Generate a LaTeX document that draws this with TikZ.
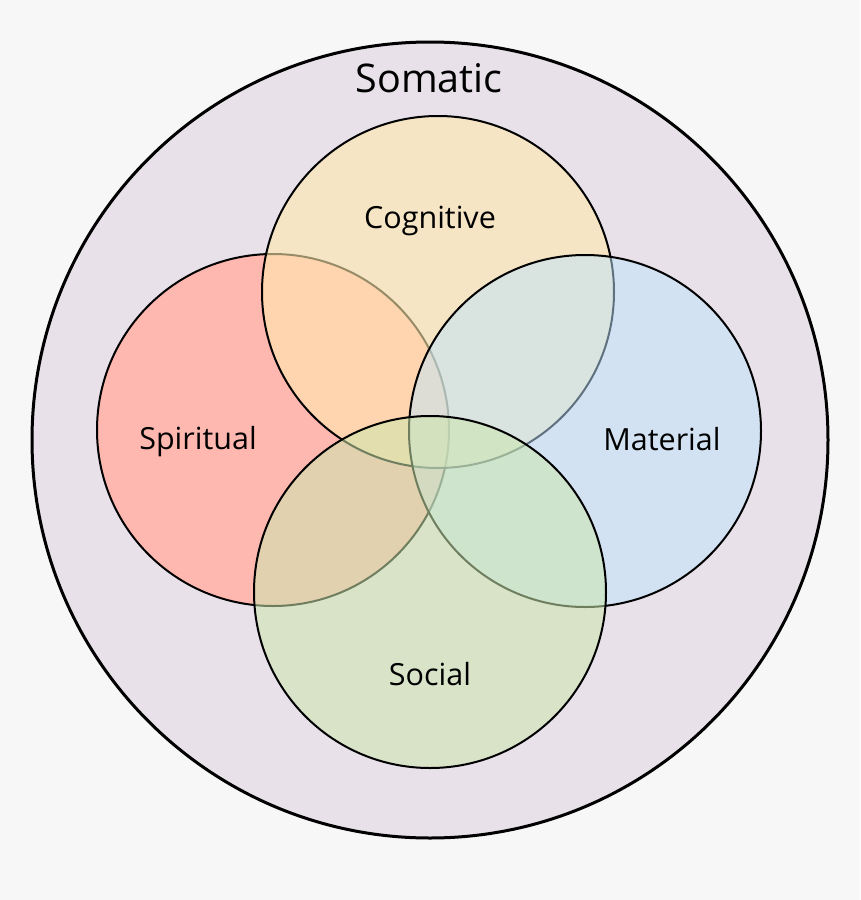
\documentclass[tikz,border=0pt]{standalone}
\usepackage{fontspec}
\setmainfont{Open Sans}[Ligatures=NoCommon]
\definecolor{bgcol}{RGB}{247,247,247}
\definecolor{lavcol}{RGB}{232,225,233}
\definecolor{spircol}{RGB}{255,184,176}
\definecolor{cogcol}{RGB}{254,233,173}
\definecolor{matcol}{RGB}{190,227,252}
\definecolor{soccol}{RGB}{203,230,173}
\tikzset{
  ring/.style={circle, draw=black, line width=2pt, inner sep=0pt, minimum size=352pt},
  outerring/.style={circle, draw=black, line width=3pt, inner sep=0pt, minimum size=796pt, fill=lavcol},
  biglabel/.style={anchor=base, font=\fontsize{39.5}{46}\selectfont, text=black, inner sep=0pt},
  smalllabel/.style={anchor=base, font=\fontsize{30.5}{36}\selectfont, text=black, inner sep=0pt}
}
\begin{document}
\begin{tikzpicture}[x=1pt,y=-1pt]
\fill[bgcol] (0,0) rectangle (860,900);
\useasboundingbox (0,0) rectangle (860,900);
\node[outerring] (outer) at (430,440) {};
\node[ring, fill=spircol] (spiritual) at (273,430) {};
\node[ring, fill=cogcol, fill opacity=0.6] (cognitive) at (438,292) {};
\node[ring, fill=matcol, fill opacity=0.5] (material) at (585,431) {};
\node[ring, fill=soccol, fill opacity=0.55] (social) at (430,592) {};
\node[biglabel] (somaticlabel) at (429,92) {Somatic};
\node[smalllabel] (coglabel) at (430,228) {Cognitive};
\node[smalllabel] (spirlabel) at (198,449) {Spiritual};
\node[smalllabel] (matlabel) at (662,450) {Material};
\node[smalllabel] (soclabel) at (430,685) {Social};
\end{tikzpicture}
\end{document}
